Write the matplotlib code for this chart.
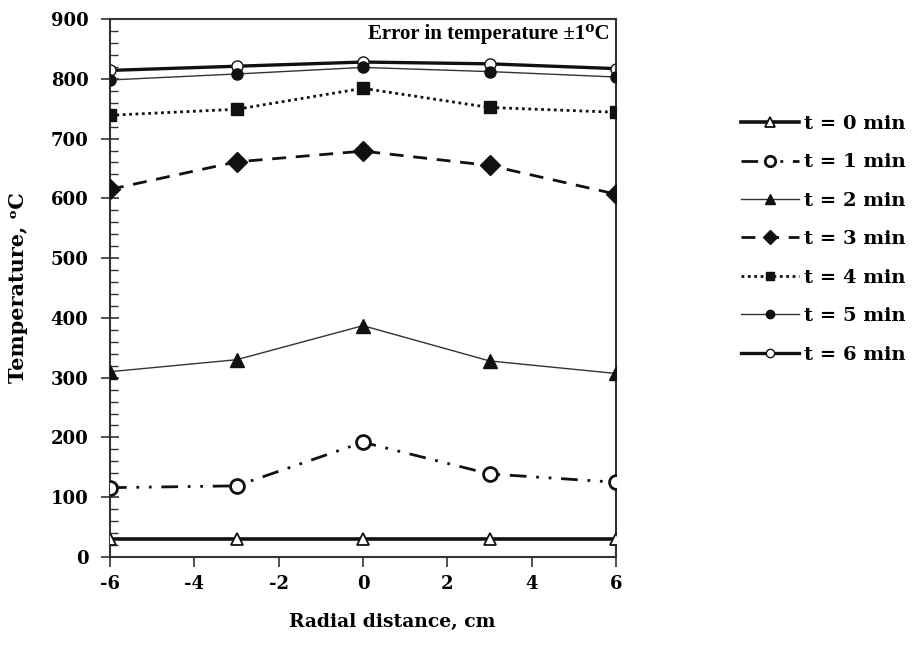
import matplotlib
matplotlib.use("Agg")
import matplotlib.pyplot as plt
from matplotlib.ticker import MultipleLocator

plt.rcParams["font.family"] = ["DejaVu Serif"]
plt.rcParams["font.weight"] = "bold"
plt.rcParams["axes.unicode_minus"] = False

# Radial positions (cm) and measured temperatures (°C) at each time step
radial = [-6, -3, 0, 3, 6]
t0 = [30, 30, 30, 30, 30]
t1 = [116, 119, 192, 139, 125]
t2 = [310, 330, 387, 328, 307]
t3 = [615, 661, 679, 655, 607]
t4 = [739, 749, 784, 752, 744]
t5 = [798, 808, 819, 812, 803]
t6 = [814, 821, 828, 825, 817]
labels = ["t = 0 min", "t = 1 min", "t = 2 min", "t = 3 min",
          "t = 4 min", "t = 5 min", "t = 6 min"]
x_ticks = [-6, -4, -2, 0, 2, 4, 6]
y_ticks = [0, 100, 200, 300, 400, 500, 600, 700, 800, 900]

fig = plt.figure(figsize=(9.17, 6.59), dpi=100)
ax = fig.add_axes([110 / 917, 1 - 557 / 659, (616 - 110) / 917, (557 - 19) / 659])

k = "#111111"
ax.plot(radial, t0, color=k, lw=2.6, marker="^", ms=9, mfc="white", mec=k, mew=1.3,
        label=labels[0], zorder=3)
ax.plot(radial, t1, color=k, lw=2.0, dashes=[6, 3.5, 1, 3.5, 1, 3.5], marker="o", ms=10,
        mfc="white", mec=k, mew=2.0, label=labels[1], zorder=3)
ax.plot(radial, t2, color="#333333", lw=1.0, marker="^", ms=10, mfc=k, mec=k,
        label=labels[2], zorder=3)
ax.plot(radial, t3, color=k, lw=2.0, dashes=[5, 3.5], marker="D", ms=10, mfc=k, mec=k,
        label=labels[3], zorder=3)
ax.plot(radial, t4, color=k, lw=2.0, dashes=[1, 1.3], marker="s", ms=8, mfc=k, mec=k,
        label=labels[4], zorder=3)
ax.plot(radial, t5, color="#333333", lw=1.0, marker="o", ms=8, mfc=k, mec=k,
        label=labels[5], zorder=3)
ax.plot(radial, t6, color=k, lw=2.4, marker="o", ms=8, mfc="white", mec=k, mew=1.0,
        label=labels[6], zorder=2)

ax.set_xlim(-6, 6)
ax.set_ylim(0, 900)
ax.set_xticks(x_ticks)
ax.set_yticks(y_ticks)
ax.yaxis.set_minor_locator(MultipleLocator(20))
ax.tick_params(axis="x", direction="out", length=7, width=1.2, color="#333333",
               labelsize=13, pad=6)
ax.tick_params(axis="y", which="major", direction="inout", length=13, width=1.2,
               color="#333333", labelsize=13, pad=9)
ax.tick_params(axis="y", which="minor", direction="in", length=6, width=1.0,
               color="#333333")
for lab in ax.get_xticklabels() + ax.get_yticklabels():
    lab.set_fontweight("bold")
for sp in ax.spines.values():
    sp.set_color("#333333")
    sp.set_linewidth(1.5)

fig.text(392 / 917, 1 - 622 / 659, "Radial distance, cm", ha="center", va="center",
         fontsize=13.5, fontweight="bold")
ax.set_ylabel("Temperature, \u1d52C", fontsize=15, fontweight="bold", labelpad=16)

ax.text(0.988, 0.99, "Error in temperature \u00b11\u2070C", transform=ax.transAxes,
        ha="right", va="top", fontsize=15, fontweight="bold",
        family=["Liberation Serif", "DejaVu Serif"])

fig.legend(loc="upper left", bbox_to_anchor=(741 / 917, 1 - 115 / 659), frameon=False,
           handlelength=3.0, handletextpad=0.25, labelspacing=1.05, markerscale=0.75,
           borderaxespad=0, borderpad=0, prop={"weight": "bold", "size": 14})

fig.savefig("out.png", dpi=100)
